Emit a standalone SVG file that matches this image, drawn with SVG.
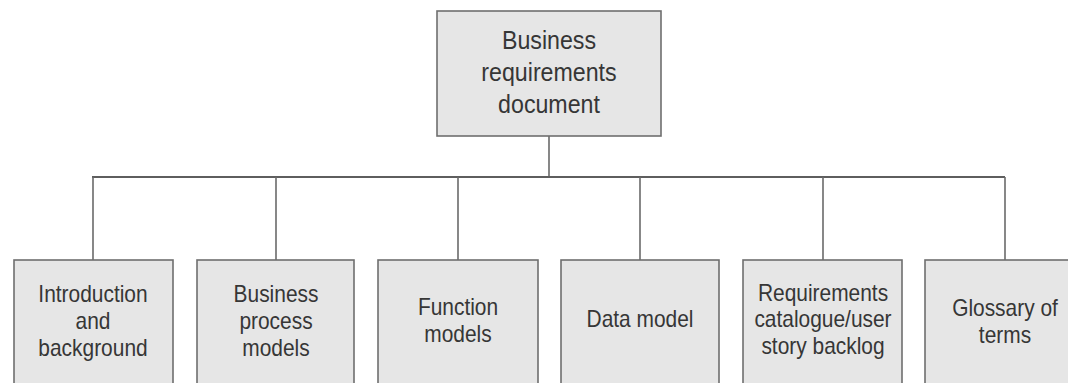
<svg xmlns="http://www.w3.org/2000/svg" width="1068" height="383" viewBox="0 0 1068 383">
  <style>
    .box { fill: #e6e6e6; stroke: #6f6f6f; stroke-width: 1.6; }
    .lbl { font-family: "Liberation Sans", Arial, sans-serif; fill: #363636; text-anchor: middle; }
    .top { font-size: 25.5px; }
    .sub { font-size: 23px; }
    .wire { stroke: #6a6a6a; stroke-width: 1.6; fill: none; }
    .bus { stroke: #5e5e5e; stroke-width: 2.2; fill: none; }
  </style>
  <rect width="1068" height="383" fill="#ffffff"/>

  <!-- tree connectors -->
  <g id="connectors">
    <line class="wire" x1="549" y1="136" x2="549" y2="177"/>
    <line class="bus" x1="92" y1="177" x2="1005" y2="177"/>
    <line class="wire" x1="93" y1="177" x2="93" y2="260"/>
    <line class="wire" x1="276" y1="177" x2="276" y2="260"/>
    <line class="wire" x1="458" y1="177" x2="458" y2="260"/>
    <line class="wire" x1="640" y1="177" x2="640" y2="260"/>
    <line class="wire" x1="823" y1="177" x2="823" y2="260"/>
    <line class="wire" x1="1005" y1="177" x2="1005" y2="260"/>
  </g>

  <!-- labels use a slightly condensed face: centred at x=0, then narrowed -->
  <g id="root">
    <rect class="box" x="437" y="11" width="224" height="125"/>
    <g transform="translate(549,0) scale(0.91,1)">
      <text class="lbl top" x="0" y="49">Business</text>
      <text class="lbl top" x="0" y="81">requirements</text>
      <text class="lbl top" x="0" y="113">document</text>
    </g>
  </g>

  <g id="intro">
    <rect class="box" x="14" y="260" width="159" height="140"/>
    <g transform="translate(93,0) scale(0.91,1)">
      <text class="lbl sub" x="0" y="302">Introduction</text>
      <text class="lbl sub" x="0" y="329">and</text>
      <text class="lbl sub" x="0" y="356">background</text>
    </g>
  </g>

  <g id="process">
    <rect class="box" x="197" y="260" width="157" height="140"/>
    <g transform="translate(276,0) scale(0.91,1)">
      <text class="lbl sub" x="0" y="302">Business</text>
      <text class="lbl sub" x="0" y="329">process</text>
      <text class="lbl sub" x="0" y="356">models</text>
    </g>
  </g>

  <g id="function">
    <rect class="box" x="378" y="260" width="160" height="140"/>
    <g transform="translate(458,0) scale(0.91,1)">
      <text class="lbl sub" x="0" y="315">Function</text>
      <text class="lbl sub" x="0" y="342">models</text>
    </g>
  </g>

  <g id="data">
    <rect class="box" x="561" y="260" width="158" height="140"/>
    <g transform="translate(640,0) scale(0.91,1)">
      <text class="lbl sub" x="0" y="327">Data model</text>
    </g>
  </g>

  <g id="requirements">
    <rect class="box" x="743" y="260" width="159" height="140"/>
    <g transform="translate(823,0) scale(0.91,1)">
      <text class="lbl sub" x="0" y="301">Requirements</text>
      <text class="lbl sub" x="0" y="327">catalogue/user</text>
      <text class="lbl sub" x="0" y="354">story backlog</text>
    </g>
  </g>

  <g id="glossary">
    <rect class="box" x="925" y="260" width="160" height="140"/>
    <g transform="translate(1005,0) scale(0.91,1)">
      <text class="lbl sub" x="0" y="316">Glossary of</text>
      <text class="lbl sub" x="0" y="343">terms</text>
    </g>
  </g>
</svg>
